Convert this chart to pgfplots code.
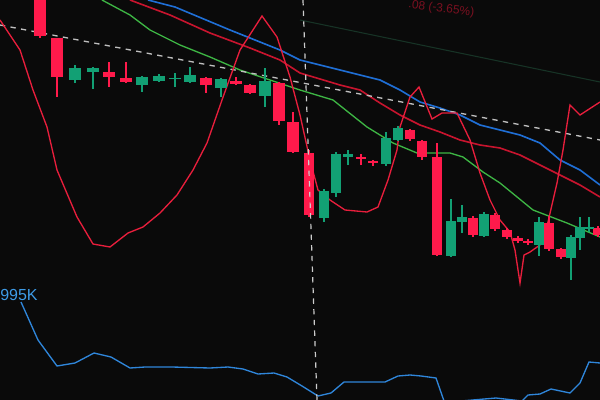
\documentclass[border=0pt]{standalone}
\usepackage{pgfplots}
\pgfplotsset{compat=1.18}
\usepackage{fontspec}
\setmainfont{Liberation Sans}

\definecolor{bg}{HTML}{0A0A0A}
\definecolor{candlered}{HTML}{FF1A4B}
\definecolor{candlegreen}{HTML}{12A074}
\definecolor{mablue}{HTML}{1F6FD6}
\definecolor{mared}{HTML}{C8142E}
\definecolor{magreen}{HTML}{3DB544}
\definecolor{oscred}{HTML}{E81E3C}
\definecolor{volblue}{HTML}{2F86DA}
\definecolor{lblblue}{HTML}{3E9BE6}
\definecolor{dimred}{HTML}{7A1020}
\definecolor{dimgreen}{HTML}{173326}

\begin{document}
\begin{tikzpicture}
\begin{axis}[
  width=450pt, height=300pt, scale only axis,
  xmin=0, xmax=600, ymin=0, ymax=400, y dir=reverse,
  axis line style={draw=none}, ticks=none,
  axis background/.style={fill=bg},
  unbounded coords=jump,
]
% faint line top right
\addplot[dimgreen, line width=0.8pt] coordinates {(300,20) (600,82)};

% moving averages
\addplot[mablue, line width=1.2pt] coordinates {
  (148,0) (175,7) (230,30) (280,50) (300,60) (340,70) (380,80) (400,90)
  (420,102) (440,108) (460,115) (480,125) (500,130) (520,135) (540,143)
  (560,160) (580,170) (600,185)};
\addplot[mared, line width=1.2pt] coordinates {
  (130,0) (170,15) (210,33) (250,48) (280,60) (300,73) (340,85) (360,90)
  (380,103) (400,115) (420,125) (440,132) (460,140) (480,145) (500,148)
  (520,155) (540,165) (560,175) (580,185) (600,197)};
\addplot[magreen, line width=1.0pt] coordinates {
  (102,0) (130,15) (150,30) (180,45) (210,57) (240,70) (270,80) (300,90)
  (333,100) (367,127) (393,143) (417,153) (450,153) (463,157) (483,172)
  (500,183) (533,210) (567,223) (600,237)};

% trend line
\addplot[white!75!black, line width=1pt, dash pattern=on 4pt off 4pt] coordinates {(0,25) (600,140)};

% oscillator
\addplot[oscred, line width=1.0pt] coordinates {
  (0,20) (20,50) (33,90) (47,127) (57,170) (77,217) (93,244) (110,247)
  (128,233) (143,227) (160,213) (177,195) (193,170) (207,143) (222,100)
  (240,50) (262,16) (277,37) (290,77) (300,115) (310,160) (318,190)
  (330,200) (345,210) (367,212) (378,207) (388,180) (397,150) (400,127)
  (410,97) (419,87) (432,119) (442,113) (457,113) (470,140) (480,173)
  (490,200) (500,220) (510,232) (515,250) (520,283) (524,255) (530,252)
  (540,245) (548,222) (557,183) (563,150) (570,105) (580,115) (600,102)};

% volume line
\addplot[volblue, line width=1.0pt] coordinates {
  (21,302) (38,340) (57,366) (75,363) (94,353) (111,357) (130,368) (145,367)
  (172,367) (210,368) (228,367) (243,369) (258,374) (274,373) (287,377)
  (302,386) (318,396) (331,393) (344,382) (385,382) (398,376) (410,375)
  (421,376) (436,378) (444,401) (461,401) (496,398) (522,401) (528,395)
  (540,394) (551,389) (570,393) (580,383) (589,362) (600,363)};

% wicks
\addplot[candlered, line width=1.1pt] coordinates {
  (40,-5) (40,38) (40,nan) (57,38) (57,97) (57,nan) (109,62) (109,87) (109,nan)
  (126,62) (126,83) (126,nan) (206,77) (206,93) (206,nan) (236,77) (236,85) (236,nan)
  (250,84) (250,94) (250,nan) (279,82) (279,125) (279,nan) (293,112) (293,153) (293,nan)
  (309,150) (309,217) (309,nan) (361,154) (361,165) (361,nan) (373,160) (373,166) (373,nan)
  (410,129) (410,141) (410,nan) (422,140) (422,160) (422,nan) (437,143) (437,256) (437,nan)
  (473,216) (473,237) (473,nan) (495,213) (495,231) (495,nan) (507,228) (507,239) (507,nan)
  (518,236) (518,243) (518,nan) (528,239) (528,245) (528,nan) (549,216) (549,251) (549,nan)
  (561,248) (561,259) (561,nan) (598,226) (598,237)};
\addplot[candlegreen, line width=1.1pt] coordinates {
  (75,65) (75,83) (75,nan) (93,67) (93,89) (93,nan) (142,76) (142,92) (142,nan)
  (159,74) (159,82) (159,nan) (175,73) (175,87) (175,nan) (190,67) (190,83) (190,nan)
  (221,78) (221,97) (221,nan) (265,68) (265,107) (265,nan)
  (324,189) (324,222) (324,nan) (336,152) (336,197) (336,nan) (348,150) (348,165) (348,nan)
  (386,132) (386,166) (386,nan) (398,126) (398,141) (398,nan) (451,199) (451,257) (451,nan)
  (462,205) (462,233) (462,nan) (484,212) (484,237) (484,nan) (539,217) (539,256) (539,nan)
  (571,235) (571,280) (571,nan) (580,217) (580,250) (580,nan) (589,217) (589,232)};

% bodies, wide (left)
\addplot[candlered, line width=9.4pt] coordinates {
  (40,-5) (40,36) (40,nan) (57,38) (57,77) (57,nan) (109,72) (109,77) (109,nan)
  (126,78) (126,82) (126,nan) (206,78) (206,85) (206,nan) (236,81) (236,84) (236,nan)
  (250,85) (250,93) (250,nan) (279,83) (279,121) (279,nan) (293,122) (293,152)};
\addplot[candlegreen, line width=9.4pt] coordinates {
  (75,68) (75,80) (75,nan) (93,68) (93,72) (93,nan) (142,77) (142,85) (142,nan)
  (159,76) (159,81) (159,nan) (175,77.5) (175,79) (175,nan) (190,75) (190,82) (190,nan)
  (221,79) (221,88) (221,nan) (265,81) (265,96)};

% bodies, narrow (right)
\addplot[candlered, line width=7.2pt] coordinates {
  (309,153) (309,215) (309,nan) (361,157) (361,159) (361,nan) (373,161) (373,163) (373,nan)
  (410,130) (410,139) (410,nan) (422,141) (422,157) (422,nan) (437,157) (437,255) (437,nan)
  (473,218) (473,235) (473,nan) (495,215) (495,229) (495,nan) (507,230) (507,237) (507,nan)
  (518,238) (518,241) (518,nan) (528,241) (528,243) (528,nan) (549,223) (549,249) (549,nan)
  (561,249) (561,257) (561,nan) (598,228) (598,235)};
\addplot[candlegreen, line width=7.2pt] coordinates {
  (324,191) (324,218) (324,nan) (336,154) (336,193) (336,nan) (348,154) (348,157) (348,nan)
  (386,138) (386,164) (386,nan) (398,128) (398,140) (398,nan) (451,221) (451,256) (451,nan)
  (462,217) (462,222) (462,nan) (484,214) (484,236) (484,nan) (539,222) (539,245) (539,nan)
  (571,237) (571,258) (571,nan) (580,227) (580,238) (580,nan) (589,227) (589,229)};

% crosshair
\addplot[white!80!black, line width=0.9pt, dash pattern=on 4pt off 4pt] coordinates {(303,0) (317,400)};

\node[anchor=west, text=lblblue, inner sep=0pt, font=\fontsize{12}{12}\selectfont] at (axis cs:0,295) {995K};
\node[anchor=base east, text=dimred, inner sep=0pt, rotate=-7, font=\fontsize{9}{9}\selectfont] at (axis cs:474,16) {.08 (-3.65\%)};
\end{axis}
\end{tikzpicture}
\end{document}
